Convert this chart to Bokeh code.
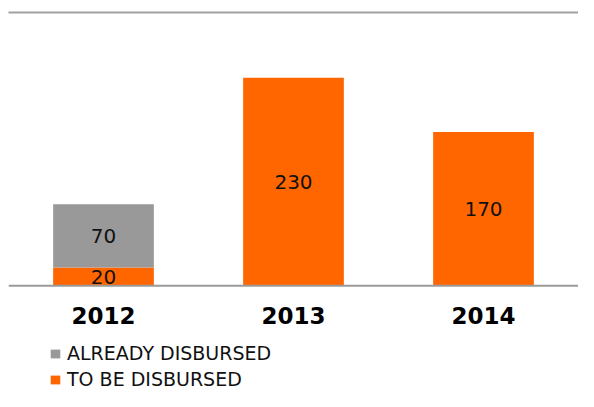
from bokeh.plotting import figure
from bokeh.models import ColumnDataSource, FactorRange, Legend, LegendItem, LinearAxis, FixedTicker, Span
from bokeh.core.properties import value
from bokeh.embed import file_html
from bokeh.resources import INLINE

years = ["2012", "2013", "2014"]
already_disbursed = [70, 0, 0]
to_be_disbursed = [20, 230, 170]
series_names = ["ALREADY DISBURSED", "TO BE DISBURSED"]
y_max = 302
y_min = -117

GRAY = "#999999"
ORANGE = "#ff6600"
FONT = "DejaVu Sans"

source = ColumnDataSource(dict(year=years, already=already_disbursed, tobe=to_be_disbursed))

p = figure(x_range=FactorRange(*years, range_padding=0), y_range=(y_min, y_max),
           width=578, height=391, output_backend="svg", toolbar_location=None,
           min_border_left=8, min_border_right=0, min_border_top=12, min_border_bottom=0)
p.outline_line_color = None
p.background_fill_color = "white"
p.border_fill_color = "white"
p.xgrid.visible = False
p.ygrid.visible = False
p.yaxis.visible = False
p.xaxis.visible = False

rs = p.vbar_stack(["tobe", "already"], x="year", width=0.53, source=source,
                  color=[ORANGE, GRAY], line_color=None)

# segment labels
lx, ly, lt = [], [], []
for yr, a, t in zip(years, already_disbursed, to_be_disbursed):
    if t > 0:
        lx.append(yr); ly.append(t / 2); lt.append(str(t))
    if a > 0:
        lx.append(yr); ly.append(t + a / 2); lt.append(str(a))
p.text(x=lx, y=ly, text=lt, text_align="center", text_baseline="middle",
       text_font=value(FONT), text_font_size="20px", text_color="#111111")

# category axis: baseline + year labels
p.add_layout(Span(location=0, dimension="width", line_color="#9a9a9a", line_width=2))
p.text(x=years, y=[0] * len(years), text=years, y_offset=30,
       text_align="center", text_baseline="middle",
       text_font=value(FONT), text_font_style="bold", text_font_size="23px",
       text_color="#000000")

top = LinearAxis(ticker=FixedTicker(ticks=[]), major_label_text_font_size="0px",
                 major_tick_out=0, major_tick_in=0, minor_tick_out=0, minor_tick_in=0,
                 axis_line_color="#a0a0a0", axis_line_width=2)
p.add_layout(top, "above")

legend = Legend(items=[LegendItem(label=series_names[0], renderers=[rs[1]]),
                       LegendItem(label=series_names[1], renderers=[rs[0]])],
                location=(41, 1), orientation="vertical")
legend.glyph_width = 12
legend.glyph_height = 11
legend.label_text_font = FONT
legend.label_text_font_size = "19px"
legend.label_text_color = "#111111"
legend.label_standoff = 6
legend.label_height = 19
legend.spacing = 4
legend.padding = 0
legend.margin = 0
legend.border_line_color = None
legend.background_fill_alpha = 0
p.add_layout(legend, "center")

open("out.html", "w").write(file_html(p, INLINE))
